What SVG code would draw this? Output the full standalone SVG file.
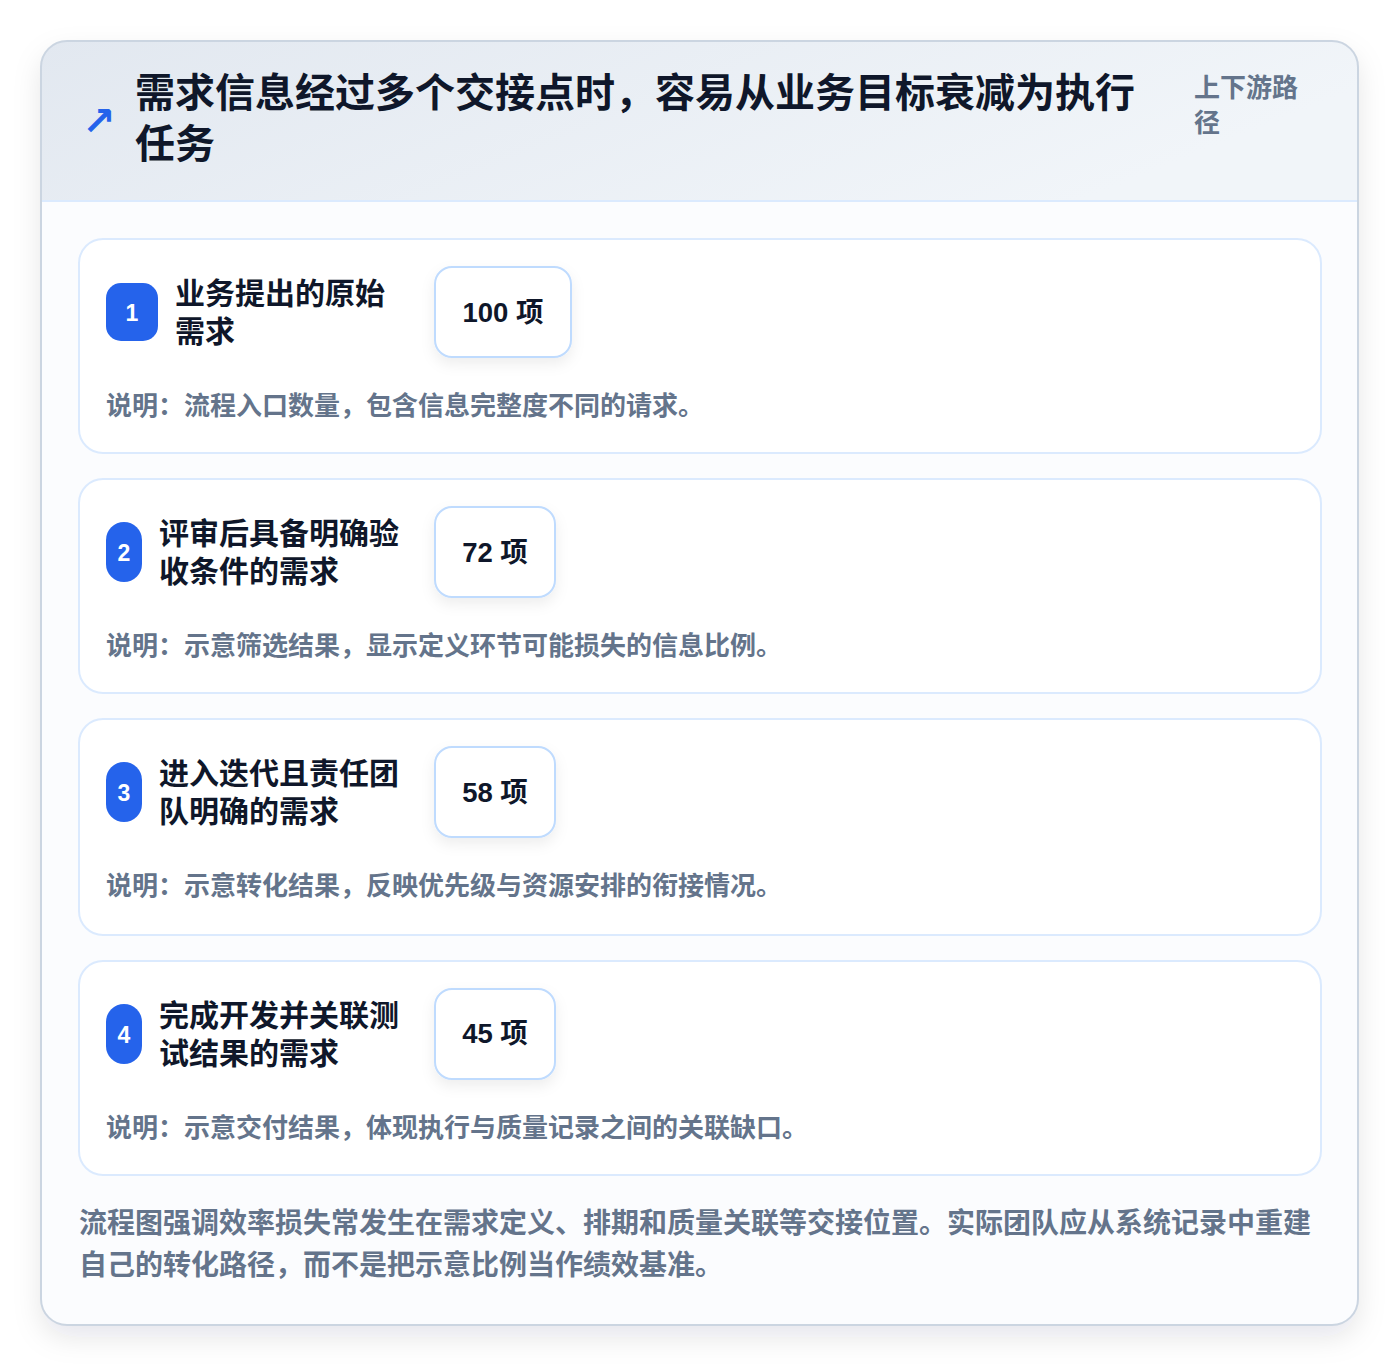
<svg xmlns="http://www.w3.org/2000/svg" width="1400" height="1366" viewBox="0 0 1400 1366">
<defs>
<linearGradient id="hdr" x1="0" y1="0" x2="1" y2="0.3">
<stop offset="0" stop-color="#e2e8f0"/>
<stop offset="1" stop-color="#f1f5f9"/>
</linearGradient>
<filter id="outerShadow" x="-10%" y="-10%" width="120%" height="120%">
<feDropShadow dx="0" dy="12" stdDeviation="14" flood-color="#0f172a" flood-opacity="0.10"/>
</filter>
<filter id="boxShadow" x="-30%" y="-30%" width="160%" height="170%">
<feDropShadow dx="0" dy="6" stdDeviation="7" flood-color="#0f172a" flood-opacity="0.07"/>
</filter>
<clipPath id="outerClip"><rect x="41" y="41" width="1317" height="1284" rx="26"/></clipPath>
</defs>
<style>
text{font-family:"Liberation Sans","Noto Sans CJK SC",sans-serif;}
.title{font-size:40px;font-weight:700;fill:#0f172a;}
.side{font-size:26px;font-weight:700;fill:#64748b;}
.card{fill:#ffffff;stroke:#dbeafe;stroke-width:2;}
.badge{fill:#2563eb;}
.badgeText{font-size:23px;font-weight:700;fill:#ffffff;text-anchor:middle;}
.label{font-size:30px;font-weight:700;fill:#0f172a;}
.numBox{fill:#ffffff;stroke:#bfdbfe;stroke-width:2;}
.num{font-size:27.5px;font-weight:700;fill:#0f172a;text-anchor:middle;}
.desc{font-size:26px;font-weight:700;fill:#64748b;}
.foot{font-size:28px;font-weight:700;fill:#64748b;}
</style>
<rect x="0" y="0" width="1400" height="1366" fill="#ffffff"/>
<g id="frame">
<rect x="41" y="41" width="1317" height="1284" rx="26" fill="#f8fafc" filter="url(#outerShadow)"/>
<g clip-path="url(#outerClip)">
<rect x="41" y="41" width="1317" height="160" fill="url(#hdr)"/>
<rect x="41" y="201" width="1317" height="1124" fill="#fbfcfe"/>
<line x1="41" y1="201" x2="1358" y2="201" stroke="#dbeafe" stroke-width="2"/>
</g>
<rect x="41" y="41" width="1317" height="1284" rx="26" fill="none" stroke="#cbd5e1" stroke-width="2"/>
</g>
<g id="header">
<text x="82" y="135" font-size="40" font-weight="700" fill="#2563eb" style="font-family:'DejaVu Sans',sans-serif">↗</text>
<text class="title" x="135" y="107">需求信息经过多个交接点时，容易从业务目标衰减为执行</text>
<text class="title" x="135" y="158">任务</text>
<text class="side" x="1194" y="97">上下游路</text>
<text class="side" x="1194" y="132">径</text>
</g>
<g id="connectors"></g>
<g id="node1">
<rect class="card" x="79" y="239" width="1242" height="214" rx="24"/>
<rect class="badge" x="106" y="283" width="52" height="58" rx="15"/>
<text class="badgeText" x="132" y="321">1</text>
<text class="label" x="175" y="304">业务提出的原始</text>
<text class="label" x="175" y="342">需求</text>
<rect class="numBox" x="435" y="267" width="136" height="90" rx="17" filter="url(#boxShadow)"/>
<text class="num" x="503" y="322">100 项</text>
<text class="desc" x="106" y="415">说明：流程入口数量，包含信息完整度不同的请求。</text>
</g>
<g id="node2">
<rect class="card" x="79" y="479" width="1242" height="214" rx="24"/>
<rect class="badge" x="106" y="522" width="36" height="60" rx="18"/>
<text class="badgeText" x="124" y="561">2</text>
<text class="label" x="159" y="544">评审后具备明确验</text>
<text class="label" x="159" y="582">收条件的需求</text>
<rect class="numBox" x="435" y="507" width="120" height="90" rx="17" filter="url(#boxShadow)"/>
<text class="num" x="495" y="562">72 项</text>
<text class="desc" x="106" y="655">说明：示意筛选结果，显示定义环节可能损失的信息比例。</text>
</g>
<g id="node3">
<rect class="card" x="79" y="719" width="1242" height="216" rx="24"/>
<rect class="badge" x="106" y="762" width="36" height="60" rx="18"/>
<text class="badgeText" x="124" y="801">3</text>
<text class="label" x="159" y="784">进入迭代且责任团</text>
<text class="label" x="159" y="822">队明确的需求</text>
<rect class="numBox" x="435" y="747" width="120" height="90" rx="17" filter="url(#boxShadow)"/>
<text class="num" x="495" y="802">58 项</text>
<text class="desc" x="106" y="895">说明：示意转化结果，反映优先级与资源安排的衔接情况。</text>
</g>
<g id="node4">
<rect class="card" x="79" y="961" width="1242" height="214" rx="24"/>
<rect class="badge" x="106" y="1004" width="36" height="60" rx="18"/>
<text class="badgeText" x="124" y="1043">4</text>
<text class="label" x="159" y="1026">完成开发并关联测</text>
<text class="label" x="159" y="1064">试结果的需求</text>
<rect class="numBox" x="435" y="989" width="120" height="90" rx="17" filter="url(#boxShadow)"/>
<text class="num" x="495" y="1043">45 项</text>
<text class="desc" x="106" y="1137">说明：示意交付结果，体现执行与质量记录之间的关联缺口。</text>
</g>
<g id="footer">
<text class="foot" x="79" y="1233">流程图强调效率损失常发生在需求定义、排期和质量关联等交接位置。实际团队应从系统记录中重建</text>
<text class="foot" x="79" y="1275">自己的转化路径，而不是把示意比例当作绩效基准。</text>
</g>
</svg>
